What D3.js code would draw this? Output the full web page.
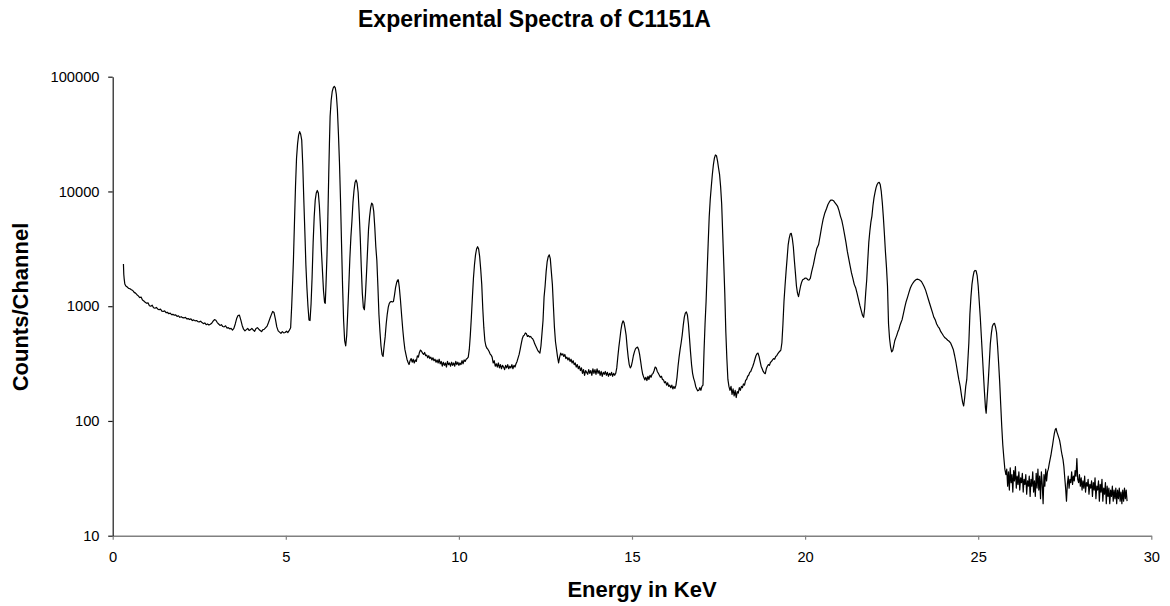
<!DOCTYPE html>
<html><head><meta charset="utf-8">
<script src="https://cdn.jsdelivr.net/npm/d3@7"></script>
<style>
html,body{margin:0;padding:0;background:#fff;}
svg{display:block;font-family:"Liberation Sans",Arial,Helvetica,sans-serif;}
</style></head><body>
<svg id="chart" width="1170" height="606"></svg>
<script>
// Axis ticks
const xTicks = [0, 5, 10, 15, 20, 25, 30];
const yTicks = [10, 100, 1000, 10000, 100000];

// Spectrum, [energy keV, counts per channel], split by energy region
const spectrumLow = [
  [0.31,2330],[0.32,1900],[0.33,1750],[0.35,1560],[0.38,1500],[0.42,1470],[0.46,1430],[0.50,1420],[0.54,1390],[0.58,1370],
  [0.62,1320],[0.66,1300],[0.70,1260],[0.74,1230],[0.78,1190],[0.82,1200],[0.86,1130],[0.90,1110],[0.94,1080],[0.98,1060],
  [1.02,1070],[1.06,1010],[1.10,1000],[1.14,1020],[1.18,970],[1.22,960],[1.26,975],[1.30,945],[1.34,930],[1.38,945],
  [1.42,905],[1.46,900],[1.50,910],[1.54,880],[1.58,885],[1.62,860],[1.66,870],[1.70,845],[1.74,850],[1.78,835],
  [1.82,840],[1.86,815],[1.90,825],[1.94,800],[1.98,810],[2.02,795],[2.06,790],[2.10,800],[2.14,775],[2.18,780],
  [2.22,765],[2.26,775],[2.30,750],[2.34,760],[2.38,745],[2.42,750],[2.46,735],[2.50,730],[2.54,740],[2.58,720],
  [2.62,705],[2.66,715],[2.70,690],[2.74,700],[2.78,685],[2.82,695],[2.86,710],[2.90,740],[2.94,765],[2.98,755],
  [3.02,720],[3.06,700],[3.10,680],[3.14,690],[3.18,665],[3.22,660],[3.26,675],[3.30,645],[3.34,650],[3.38,635],
  [3.42,640],[3.46,620],[3.50,640],[3.54,700],[3.58,780],[3.62,830],[3.66,835],[3.70,760],[3.74,680],[3.78,630],
  [3.82,610],[3.86,625],[3.90,640],[3.94,615],[3.98,625],[4.02,640],[4.06,620],[4.10,605],[4.14,640],[4.18,650],
  [4.22,630],[4.26,615],[4.30,600],[4.34,625],[4.38,630],[4.42,650],[4.46,670],[4.50,720],[4.54,780],[4.58,840],
  [4.62,900],[4.66,880],[4.70,770],[4.74,660],[4.78,610],[4.82,595],[4.86,580],[4.90,600],[4.94,585],[4.98,590],
  [5.02,605],[5.06,590],[5.10,615]
];

const spectrumKLines = [
  [5.14,650],[5.17,1000],[5.20,1700],[5.22,2500],[5.25,5300],[5.28,11000],[5.31,19500],[5.34,26000],[5.37,31000],[5.40,33200],
  [5.43,31500],[5.46,28000],[5.49,17000],[5.52,8500],[5.55,4500],[5.58,2300],[5.61,1450],[5.64,1000],[5.67,760],[5.70,750],
  [5.73,1050],[5.76,1800],[5.79,3600],[5.82,6000],[5.85,8400],[5.88,9700],[5.91,10200],[5.94,9700],[5.97,7500],[6.00,5000],
  [6.03,3000],[6.06,2000],[6.09,1350],[6.12,1080],[6.14,1060],[6.16,1500],[6.19,2800],[6.21,5000],[6.24,14000],[6.26,26000],
  [6.28,45000],[6.31,62000],[6.34,74000],[6.37,80000],[6.40,82500],[6.43,80000],[6.46,70000],[6.49,52000],[6.52,32000],[6.55,18000],
  [6.58,8500],[6.61,3500],[6.64,1500],[6.67,750],[6.70,500],[6.73,450],[6.76,560],[6.79,900],[6.82,1500],[6.85,2600],
  [6.88,4000],[6.91,5500],[6.94,8000],[6.97,10200],[7.00,12000],[7.03,12600],[7.06,11800],[7.09,9800],[7.12,6500],[7.15,4000],
  [7.18,2200],[7.21,1300],[7.24,980],[7.27,930],[7.30,1250],[7.33,1900],[7.36,3000],[7.39,4700],[7.42,6000],[7.45,7200],
  [7.48,7900],[7.51,7700],[7.54,6700],[7.57,4900],[7.60,3300],[7.63,2500],[7.66,1500],[7.69,850],[7.72,600],[7.75,450],
  [7.78,380],[7.81,365],[7.84,450],[7.87,540],[7.90,700],[7.93,850],[7.96,980],[7.99,1060],[8.02,1090],[8.05,1100],
  [8.08,1090],[8.11,1100],[8.14,1250],[8.17,1450],[8.20,1600],[8.23,1690],[8.25,1700],[8.28,1450],[8.31,1150],[8.35,800],
  [8.38,620],[8.41,500],[8.44,420],[8.47,380],[8.50,345],[8.53,325],[8.56,310]
];

const spectrumMid = [
  [8.59,335],[8.62,350],[8.65,325],[8.68,345],[8.71,320],[8.74,340],[8.77,330],[8.80,370],[8.83,360],[8.86,395],
  [8.89,415],[8.92,405],[8.95,390],[8.98,380],[9.01,395],[9.04,370],[9.07,375],[9.10,355],[9.13,370],[9.16,350],
  [9.19,360],[9.22,340],[9.25,355],[9.28,335],[9.31,345],[9.34,325],[9.37,340],[9.40,320],[9.43,345],[9.46,315],
  [9.49,330],[9.52,300],[9.55,325],[9.58,305],[9.61,320],[9.64,295],[9.67,330],[9.70,310],[9.73,320],[9.76,300],
  [9.79,325],[9.82,305],[9.85,320],[9.88,300],[9.91,330],[9.94,310],[9.97,325],[10.00,305],[10.03,320],[10.06,310],
  [10.09,335],[10.12,315],[10.15,340],[10.18,330],[10.21,345],[10.24,350],[10.27,360],[10.30,420],[10.33,560],[10.36,800],
  [10.39,1200],[10.42,1750],[10.45,2300],[10.48,2800],[10.51,3150],[10.54,3300],[10.57,3150],[10.60,2700],[10.63,2100],[10.66,1550],
  [10.69,950],[10.72,650],[10.75,500],[10.78,450],[10.81,430],[10.84,420],[10.87,405],[10.90,385],[10.93,375],[10.96,360],
  [10.99,320],[11.02,335],[11.05,300],[11.08,315],[11.11,295],[11.14,320],[11.17,290],[11.20,310],[11.23,285],[11.26,305],
  [11.29,295],[11.32,280],[11.35,305],[11.38,290],[11.41,310],[11.44,285],[11.47,300],[11.50,290],[11.53,310],[11.56,285],
  [11.59,305],[11.62,295],[11.65,315],[11.68,330],[11.71,355],[11.74,380],[11.77,420],[11.80,470],[11.83,520],[11.86,550],
  [11.89,560],[11.92,585],[11.95,575],[11.98,545],[12.01,555],[12.04,540],[12.07,545],[12.10,530],[12.13,520],[12.16,500],
  [12.19,470],[12.22,450],[12.25,430],[12.28,410],[12.31,400],[12.34,390],[12.37,450],[12.40,580],[12.43,750],[12.46,1200],
  [12.49,1500],[12.52,2000],[12.55,2450],[12.58,2700],[12.61,2800],[12.64,2600],[12.67,2000],[12.70,1550],[12.73,1000],[12.76,650],
  [12.79,490],[12.82,420],[12.85,360],[12.88,320],[12.91,360],[12.94,390],[12.97,375],[13.00,385]
];

const spectrumUpper = [
  [13.03,365],[13.06,380],[13.09,350],[13.12,360],[13.15,340],[13.18,355],[13.21,330],[13.24,345],[13.27,320],[13.30,335],
  [13.33,310],[13.36,320],[13.39,295],[13.42,310],[13.45,285],[13.48,300],[13.51,275],[13.54,290],[13.57,260],[13.60,280],
  [13.63,250],[13.66,275],[13.69,265],[13.72,255],[13.75,280],[13.78,260],[13.81,275],[13.84,250],[13.87,285],[13.90,260],
  [13.93,280],[13.96,255],[13.99,285],[14.02,260],[14.05,275],[14.08,250],[14.11,270],[14.14,245],[14.17,265],[14.20,255],
  [14.23,270],[14.26,250],[14.29,265],[14.32,245],[14.35,260],[14.38,250],[14.41,265],[14.44,245],[14.47,260],[14.50,250],
  [14.53,260],[14.56,290],[14.59,360],[14.62,440],[14.65,520],[14.68,620],[14.71,700],[14.74,745],[14.77,720],[14.80,640],
  [14.83,560],[14.86,440],[14.89,360],[14.92,310],[14.95,290],[14.98,300],[15.01,330],[15.04,370],[15.07,400],[15.10,425],
  [15.13,435],[15.16,440],[15.19,420],[15.22,380],[15.25,330],[15.28,285],[15.31,255],[15.34,240],[15.37,228],[15.40,240],
  [15.43,225],[15.46,245],[15.49,230],[15.52,250],[15.55,240],[15.58,255],[15.61,260],[15.64,275],[15.67,295],[15.70,290],
  [15.73,270],[15.76,260],[15.79,250],[15.82,240],[15.85,245],[15.88,230],[15.91,228],[15.94,215],[15.97,220],[16.00,205],
  [16.03,215],[16.06,200],[16.09,205],[16.12,195],[16.15,205],[16.18,190],[16.21,200],[16.24,192],[16.27,205],[16.30,240],
  [16.33,300],[16.36,360],[16.39,420],[16.42,480],[16.45,560],[16.48,680],[16.51,800],[16.54,870],[16.57,890],[16.60,840],
  [16.63,700],[16.66,530],[16.69,400],[16.72,310],[16.75,260],[16.78,235],[16.81,220],[16.84,200],[16.87,190],[16.90,183],
  [16.93,185],[16.96,195],[16.99,185],[17.02,200],[17.05,205],[17.08,400],[17.11,700],[17.14,1100],[17.17,2000],[17.20,3500],
  [17.23,6000],[17.26,8500],[17.29,11000],[17.32,14000],[17.35,17000],[17.38,19500],[17.41,20800],[17.44,20500],[17.47,18500],[17.50,16000],
  [17.53,14000],[17.56,11000],[17.59,7800],[17.62,4300],[17.65,2400],[17.68,1300],[17.71,600],[17.74,350],[17.77,230],[17.80,200]
];

const spectrumHigh = [
  [17.83,185],[17.86,200],[17.89,170],[17.92,190],[17.95,165],[17.98,185],[18.01,160],[18.04,180],[18.07,175],[18.10,195],
  [18.13,185],[18.16,200],[18.19,195],[18.22,210],[18.25,205],[18.28,225],[18.31,230],[18.34,245],[18.37,250],[18.40,265],
  [18.43,270],[18.46,285],[18.49,300],[18.52,320],[18.55,345],[18.58,370],[18.61,385],[18.64,390],[18.67,365],[18.70,330],
  [18.73,300],[18.76,285],[18.79,270],[18.82,262],[18.85,258],[18.88,285],[18.91,300],[18.94,310],[18.97,305],[19.00,325],
  [19.03,330],[19.06,340],[19.09,350],[19.12,345],[19.15,365],[19.18,370],[19.21,385],[19.24,395],[19.27,405],[19.30,415],
  [19.33,480],[19.36,700],[19.39,1100],[19.42,1500],[19.45,2000],[19.48,2600],[19.51,3400],[19.54,3900],[19.57,4250],[19.60,4320],
  [19.63,3900],[19.66,3300],[19.69,2500],[19.72,1950],[19.75,1500],[19.78,1300],[19.81,1210],[19.84,1350],[19.87,1500],[19.90,1620],
  [19.93,1700],[19.96,1720],[19.99,1750],[20.02,1760],[20.05,1740],[20.08,1700],[20.11,1690],[20.15,1750],[20.19,2000],[20.24,2300],
  [20.29,2750],[20.34,3200],[20.39,3450],[20.44,4200],[20.48,4950],[20.52,5700],[20.57,6500],[20.62,7100],[20.66,7700],[20.70,8100],
  [20.74,8400],[20.78,8420],[20.82,8300],[20.86,8000],[20.90,7700],[20.94,7400],[20.98,6800],[21.02,6100],[21.06,5600],[21.10,4900],
  [21.14,4200],[21.18,3600],[21.22,3000],[21.26,2600],[21.30,2250],[21.34,1950],[21.38,1750],[21.42,1550],[21.46,1450],[21.50,1300],
  [21.54,1150],[21.58,1020],[21.62,920],[21.66,830],[21.69,800],[21.72,950],[21.75,1300],[21.78,1700],[21.81,2500],[21.84,3600],
  [21.87,4500],[21.90,5400],[21.93,6100],[21.96,7500],[21.99,8800],[22.02,9800],[22.05,10800],[22.08,11500],[22.11,11900],[22.14,12000],
  [22.17,11500],[22.20,10000],[22.23,8000],[22.26,6000],[22.29,4300],[22.32,3000],[22.35,2200],[22.38,1500],[22.41,700],[22.44,520],
  [22.47,440],[22.50,400],[22.53,410],[22.56,450],[22.59,500],[22.62,530],[22.65,560],[22.68,600],[22.71,630],[22.74,680],
  [22.77,720],[22.80,760],[22.84,860],[22.88,980],[22.92,1100],[22.96,1200],[23.00,1320],[23.04,1440],[23.08,1530],[23.12,1600],
  [23.16,1660],[23.20,1700],[23.24,1720],[23.28,1710],[23.32,1680],[23.36,1640],[23.40,1560],[23.44,1480],[23.48,1380],[23.52,1260],
  [23.56,1150],[23.60,1050],[23.64,960],[23.68,880],[23.72,800],[23.76,760],[23.80,700],[23.84,665],[23.88,640],[23.92,600],
  [23.96,575],[24.00,550],[24.04,530],[24.08,520],[24.12,505],[24.16,495],[24.20,480],[24.24,450],[24.28,420],[24.32,370],
  [24.36,320],[24.40,270],[24.44,230],[24.48,200],[24.52,165],[24.55,145],[24.58,135],[24.61,160],[24.64,200],[24.67,230],
  [24.70,330],[24.73,480],[24.76,850],[24.79,1200],[24.82,1550],[24.85,1800],[24.88,2000],[24.91,2050],[24.94,2030],[24.97,1850],
  [25.00,1500],[25.03,1100],[25.06,800],[25.09,550],[25.12,380],[25.15,260],[25.18,180],[25.21,130],[25.23,117],[25.26,160],
  [25.29,220],[25.32,320],[25.35,470],[25.38,580],[25.41,670],[25.44,700],[25.47,710],[25.50,660],[25.53,590],[25.56,450],
  [25.59,320],[25.62,220],[25.65,140],[25.68,90],[25.71,62],[25.74,48],[25.77,38],[25.80,34]
];

const spectrumTail = [
  [25.825,38],[25.85,27],[25.875,36],[25.9,25],[25.925,39],[25.95,29],[25.975,34],[26.0,24],[26.025,37],[26.05,30],
  [26.075,40],[26.1,26],[26.125,33],[26.15,28],[26.175,36],[26.2,25],[26.225,32],[26.25,29],[26.275,35],[26.3,24],
  [26.325,31],[26.35,28],[26.375,34],[26.4,23],[26.425,30],[26.45,27],[26.475,33],[26.5,22],[26.525,31],[26.55,27],
  [26.575,36],[26.6,24],[26.625,30],[26.65,22],[26.675,35],[26.7,26],[26.725,38],[26.75,25],[26.775,33],[26.8,21],
  [26.825,36],[26.85,28],[26.875,19],[26.9,34],[26.925,27],[26.95,38],[26.975,30],[27.0,36],[27.025,38],[27.05,42],
  [27.075,46],[27.1,50],[27.125,56],[27.15,62],[27.175,70],[27.2,78],[27.225,84],[27.25,86],[27.275,80],[27.3,76],
  [27.325,72],[27.35,68],[27.375,62],[27.4,55],[27.425,50],[27.45,46],[27.475,40],[27.5,32],[27.525,26],[27.55,20],
  [27.575,28],[27.6,33],[27.625,26],[27.65,31],[27.675,29],[27.7,36],[27.725,28],[27.75,33],[27.775,30],[27.8,37],
  [27.825,33],[27.85,47],[27.875,31],[27.9,29],[27.925,34],[27.95,27],[27.975,32],[28.0,25],[28.025,30],[28.05,26],
  [28.075,33],[28.1,24],[28.125,29],[28.15,27],[28.175,31],[28.2,23],[28.225,28],[28.25,26],[28.275,30],[28.3,22],
  [28.325,29],[28.35,25],[28.375,32],[28.4,21],[28.425,27],[28.45,25],[28.475,30],[28.5,20],[28.525,28],[28.55,24],
  [28.575,31],[28.6,20],[28.625,26],[28.65,23],[28.675,29],[28.7,19],[28.725,27],[28.75,22],[28.775,26],[28.8,19],
  [28.825,25],[28.85,22],[28.875,27],[28.9,20],[28.925,25],[28.95,21],[28.975,26],[29.0,19],[29.025,25],[29.05,21],
  [29.075,26],[29.1,20],[29.125,24],[29.15,19],[29.175,25],[29.2,20],[29.225,26],[29.25,21],[29.275,25],[29.3,20]
];

const spectrum = [].concat(spectrumLow, spectrumKLines, spectrumMid, spectrumUpper, spectrumHigh, spectrumTail);

// Layout
const plot = { left: 112.7, right: 1151.3, top: 76.7, bottom: 535.7 };
const svg = d3.select("#chart");

const x = d3.scaleLinear().domain([0, 30]).range([plot.left, plot.right]);
const y = d3.scaleLog().domain([10, 100000]).range([plot.bottom, plot.top]);

// X axis
const gx = svg.append("g")
  .attr("transform", `translate(0,${plot.bottom})`)
  .call(d3.axisBottom(x).tickValues(xTicks).tickSize(4).tickSizeOuter(0).tickPadding(11.6).tickFormat(d3.format("d")));
gx.select(".domain").attr("stroke", "#808080").attr("stroke-width", 1.6);
gx.selectAll(".tick line").attr("stroke", "#808080").attr("stroke-width", 1.2);
gx.selectAll(".tick text").attr("fill", "#000").style("font-size", "14.7px").style("font-family", "'Liberation Sans', Arial, sans-serif");

// Y axis (log)
const gy = svg.append("g")
  .attr("transform", `translate(${plot.left},0)`)
  .call(d3.axisLeft(y).tickValues(yTicks).tickSize(4.5).tickSizeOuter(0).tickPadding(8.7).tickFormat(d3.format("d")));
gy.select(".domain").attr("stroke", "#1a1a1a").attr("stroke-width", 1.2);
gy.selectAll(".tick line").attr("stroke", "#1a1a1a").attr("stroke-width", 1.2);
gy.selectAll(".tick text").attr("fill", "#000").style("font-size", "14.7px").style("font-family", "'Liberation Sans', Arial, sans-serif");

// Spectrum trace
const line = d3.line().x(d => x(d[0])).y(d => y(d[1]));
svg.append("path")
  .datum(spectrum)
  .attr("fill", "none")
  .attr("stroke", "#000")
  .attr("stroke-width", 1.2)
  .attr("stroke-linejoin", "round")
  .attr("d", line);

// Titles
svg.append("text")
  .attr("x", 358).attr("y", 27)
  .attr("text-anchor", "start")
  .style("font-size", "23px").style("font-weight", "bold")
  .text("Experimental Spectra of C1151A");

svg.append("text")
  .attr("x", 642).attr("y", 597)
  .attr("text-anchor", "middle")
  .style("font-size", "22px").style("font-weight", "bold")
  .text("Energy in KeV");

svg.append("text")
  .attr("transform", "translate(28,307) rotate(-90)")
  .attr("text-anchor", "middle")
  .style("font-size", "22px").style("font-weight", "bold")
  .text("Counts/Channel");
</script>
</body></html>
